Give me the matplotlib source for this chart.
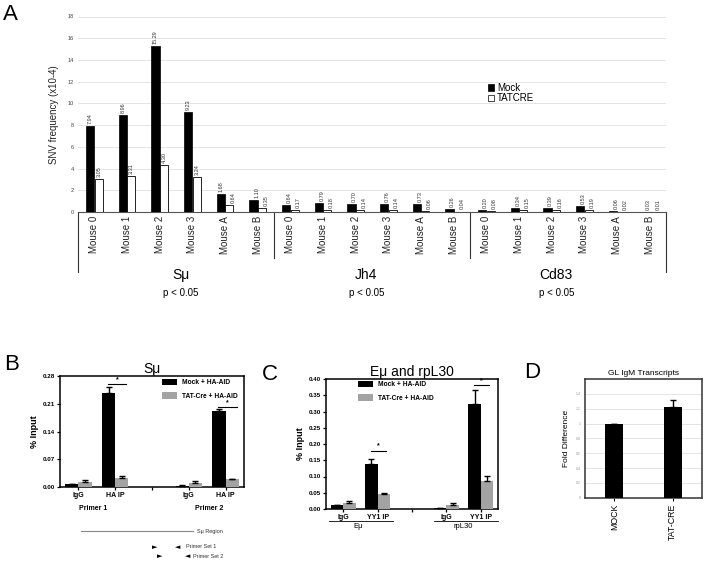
import numpy as np
import matplotlib
matplotlib.use("Agg")
import matplotlib.pyplot as plt
from matplotlib.patches import Patch
from matplotlib.lines import Line2D

plt.rcParams['font.family'] = ['Liberation Sans', 'DejaVu Sans']

## ---- data, panel A ----
mice = ["Mouse 0", "Mouse 1", "Mouse 2", "Mouse 3", "Mouse A", "Mouse B"]
loci = ["S\u03bc", "Jh4", "Cd83"]
pvals = ["p < 0.05", "p < 0.05", "p < 0.05"]
mock_a = [7.94, 8.96, 15.29, 9.23, 1.68, 1.10,
          0.64, 0.79, 0.70, 0.76, 0.73, 0.26,
          0.20, 0.34, 0.39, 0.53, 0.06, 0.03]
tat_a = [3.05, 3.31, 4.30, 3.24, 0.64, 0.35,
         0.17, 0.18, 0.14, 0.14, 0.06, 0.04,
         0.08, 0.15, 0.16, 0.19, 0.02, 0.01]

## ---- data, panel B ----
cats_b = ["IgG", "HA IP", "", "IgG", "HA IP"]
mock_b = [0.008, 0.236, np.nan, 0.0035, 0.192]
mock_b_err = [0.0, 0.016, 0.0, 0.0006, 0.004]
tat_b = [0.0135, 0.023, np.nan, 0.009, 0.021]
tat_b_err = [0.005, 0.005, 0.0, 0.005, 0.0]
primers_b = ["Primer 1", "Primer 2"]

## ---- data, panel C ----
cats_c = ["IgG", "YY1 IP", "", "IgG", "YY1 IP"]
mock_c = [0.011, 0.139, np.nan, 0.003, 0.323]
mock_c_err = [0.0008, 0.015, 0.0, 0.0005, 0.044]
tat_c = [0.017, 0.046, np.nan, 0.013, 0.085]
tat_c_err = [0.008, 0.003, 0.0, 0.007, 0.018]
groups_c = ["E\u03bc", "rpL30"]

## ---- data, panel D ----
cats_d = ["MOCK", "TAT-CRE"]
vals_d = [1.0, 1.22]
err_d = [0.0, 0.10]

GRAY = "#a3a3a3"

fig = plt.figure(figsize=(7.06, 5.62), dpi=100)
W, H = 706.0, 562.0

def box(l, t, r, b):
    return [l / W, 1 - b / H, (r - l) / W, (b - t) / H]

## ================= panel A =================
ax = fig.add_axes(box(78, 16.5, 666, 212))
x = np.arange(len(mock_a))
ax.bar(x - 0.13, mock_a, 0.25, color="black", edgecolor="black", lw=0.5, zorder=3)
ax.bar(x + 0.135, tat_a, 0.25, color="white", edgecolor="black", lw=0.6, zorder=3)
for i in range(len(x)):
    ## small bars: label sits a little to the right, like the original
    dx = 0.0 if mock_a[i] > 1.5 else 0.1
    ax.text(x[i] - 0.13 + dx, mock_a[i] + 0.2, "%.2f" % mock_a[i], rotation=90,
            ha="center", va="bottom", fontsize=4, color="#333333")
    dx = 0.0 if tat_a[i] > 1.5 else 0.12
    ax.text(x[i] + 0.135 + dx, tat_a[i] + 0.2, "%.2f" % tat_a[i], rotation=90,
            ha="center", va="bottom", fontsize=4, color="#333333")
ax.set_xlim(-0.5, 17.5)
ax.set_ylim(0, 18)
ax.set_yticks(np.arange(0, 19, 2))
ax.yaxis.grid(True, color="#e4e4e4", lw=0.7)
ax.set_axisbelow(True)
for s in ["left", "right", "top"]:
    ax.spines[s].set_visible(False)
ax.spines["bottom"].set_color("#555555")
ax.tick_params(axis="y", length=0, labelsize=4, labelcolor="#444444", pad=3)
ax.set_xticks(x)
ax.set_xticklabels(mice * 3, rotation=90, fontsize=7, color="#222222")
ax.tick_params(axis="x", length=0, pad=3)
ax.set_ylabel("SNV frequency (x10-4)", fontsize=7, color="#222222", labelpad=6)

tr = ax.get_xaxis_transform()
ah = 212 - 16.5
for k, sx in enumerate([-0.5, 5.5, 11.5, 17.5]):
    depth = 60 if k in (0, 3) else 46
    ax.plot([sx, sx], [0, -depth / ah], transform=tr, color="#333333",
            lw=0.8, clip_on=False)
for k, cx in enumerate([2.64, 8.33, 14.14]):
    ax.text(cx, -(275 - 212) / ah, loci[k], transform=tr, ha="center",
            va="center", fontsize=10)
    ax.text(cx, -(293 - 212) / ah, pvals[k], transform=tr, ha="center",
            va="center", fontsize=7)
ax.legend(handles=[Patch(facecolor="black", edgecolor="black", lw=0.5),
                   Patch(facecolor="white", edgecolor="black", lw=0.5)],
          labels=["Mock", "TATCRE"], loc="upper left",
          bbox_to_anchor=((488 - 78) / 588, 1 - (83 - 16.5) / ah),
          frameon=False, fontsize=7, handlelength=0.6, handleheight=0.6,
          handletextpad=0.3, labelspacing=0.05, borderpad=0, borderaxespad=0)

## ================= panels B and C (Prism style) =================
def prism_panel(rect, cats, mock, merr, tat, terr, ymax, step, title, leg_pos):
    a = fig.add_axes(rect)
    xs = np.arange(len(cats))
    w = 0.36
    zero = np.zeros(len(cats))
    a.bar(xs - w / 2, mock, w, color="black", zorder=3)
    a.bar(xs + w / 2, tat, w, color=GRAY, zorder=3)
    a.errorbar(xs - w / 2, mock, yerr=[zero, merr], fmt="none", ecolor="black",
               elinewidth=1, capsize=2.5, capthick=1, zorder=4)
    a.errorbar(xs + w / 2, tat, yerr=[zero, terr], fmt="none", ecolor="black",
               elinewidth=1, capsize=2.5, capthick=1, zorder=4)
    a.set_xlim(-0.5, len(cats) - 0.5)
    a.set_ylim(0, ymax)
    a.set_yticks(np.arange(0, ymax + step / 2, step))
    a.yaxis.set_major_formatter(matplotlib.ticker.FormatStrFormatter("%.2f"))
    a.set_xticks(xs)
    a.set_xticklabels(cats, fontsize=5, fontweight="bold")
    a.tick_params(axis="y", labelsize=4.5, length=2.5, width=0.9, pad=1)
    a.tick_params(axis="x", length=2, width=0.9, pad=1.5)
    for lab in a.get_yticklabels():
        lab.set_fontweight("bold")
    for s in a.spines.values():
        s.set_linewidth(1.1)
    a.set_title(title, fontsize=10, pad=2)
    a.set_ylabel("% Input", fontsize=6.5, fontweight="bold", labelpad=3)
    a.legend(handles=[Patch(facecolor="black"), Patch(facecolor=GRAY)],
             labels=["Mock + HA-AID", "TAT-Cre + HA-AID"], loc="upper left",
             bbox_to_anchor=leg_pos, frameon=False,
             prop={"size": 4.8, "weight": "bold"}, handlelength=2.2,
             handleheight=1.1, handletextpad=0.8, labelspacing=0.9,
             borderpad=0, borderaxespad=0)
    return a

axb = prism_panel(box(60, 376, 244, 487), cats_b, mock_b, mock_b_err, tat_b,
                  tat_b_err, 0.28, 0.07, "S\u03bc",
                  ((162 - 60) / 184, 1 - (379 - 376) / 111))
for cx, y in [(1, 0.259), (4, 0.202)]:
    axb.plot([cx - 0.2, cx + 0.3], [y, y], color="black", lw=0.8)
    axb.text(cx + 0.05, y + 0.002, "*", ha="center", va="bottom", fontsize=5,
             fontweight="bold")
trb = axb.get_xaxis_transform()
for k, cx in enumerate([0.4, 3.55]):
    axb.text(cx, -(508 - 487) / 111, primers_b[k], transform=trb, ha="center",
             va="center", fontsize=5, fontweight="bold")

fig.add_artist(Line2D([80.7 / W, 193 / W], [1 - 531 / H, 1 - 531 / H],
                      color="#888888", lw=0.8))
fig.text(197 / W, 1 - 531 / H, "S\u03bc Region", fontsize=4, va="center",
         color="#333333")
arrow_kw = dict(fontsize=5, va="center", ha="center", family="DejaVu Sans")
fig.text(155 / W, 1 - 547 / H, "\u25ba", **arrow_kw)
fig.text(178 / W, 1 - 547 / H, "\u25c4", **arrow_kw)
fig.text(186 / W, 1 - 547 / H, "Primer Set 1", fontsize=4, va="center",
         color="#333333")
fig.text(160 / W, 1 - 556 / H, "\u25ba", **arrow_kw)
fig.text(188 / W, 1 - 556 / H, "\u25c4", **arrow_kw)
fig.text(193 / W, 1 - 556 / H, "Primer Set 2", fontsize=4, va="center",
         color="#333333")

axc = prism_panel(box(326, 379, 498, 509), cats_c, mock_c, mock_c_err, tat_c,
                  tat_c_err, 0.40, 0.05, "E\u03bc and rpL30",
                  ((358 - 326) / 172, 1 - (381 - 379) / 130))
for cx, y in [(1, 0.179), (4, 0.381)]:
    axc.plot([cx - 0.2, cx + 0.25], [y, y], color="black", lw=0.8)
    axc.text(cx + 0.02, y + 0.004, "*", ha="center", va="bottom", fontsize=5,
             fontweight="bold")
trc = axc.get_xaxis_transform()
for k, (x0, x1) in enumerate([(-0.4, 1.45), (2.65, 4.5)]):
    axc.plot([x0, x1], [-(520.5 - 509) / 130] * 2, transform=trc,
             color="black", lw=0.6, clip_on=False)
    axc.text((x0 + x1) / 2 - 0.1, -(527 - 509) / 130, groups_c[k],
             transform=trc, ha="center", va="center", fontsize=5.5)

## ================= panel D =================
axd = fig.add_axes(box(585, 379, 702, 497.7))
xd = np.arange(len(cats_d))
axd.bar(xd, vals_d, 0.3, color="black", zorder=3)
axd.errorbar(xd, vals_d, yerr=[np.zeros(2), err_d], fmt="none", ecolor="black",
             elinewidth=1, capsize=2.5, capthick=1, zorder=4)
axd.set_xlim(-0.5, 1.5)
axd.set_ylim(0, 1.6)
axd.set_yticks(np.arange(0, 1.5, 0.2))
axd.yaxis.set_major_formatter(matplotlib.ticker.FuncFormatter(lambda v, p: "%g" % round(v, 1)))
axd.yaxis.grid(True, color="#e4e4e4", lw=0.7)
axd.set_axisbelow(True)
axd.tick_params(axis="y", length=0, labelsize=2.5, labelcolor="#999999", pad=3)
axd.set_xticks(xd)
axd.set_xticklabels(cats_d, rotation=90, fontsize=6.3)
axd.tick_params(axis="x", length=2, pad=2)
for s in axd.spines.values():
    s.set_linewidth(1.1)
    s.set_color("#333333")
axd.set_title("GL IgM Transcripts", fontsize=6, pad=3)
axd.set_ylabel("Fold Difference", fontsize=6, labelpad=4)

## panel letters
for letter, (px, py) in zip("ABCD", [(3, 14), (4, 365), (262, 374), (524, 372)]):
    fig.text(px / W, 1 - py / H, letter, fontsize=16, va="center", ha="left")

fig.savefig("out.png", dpi=100)
